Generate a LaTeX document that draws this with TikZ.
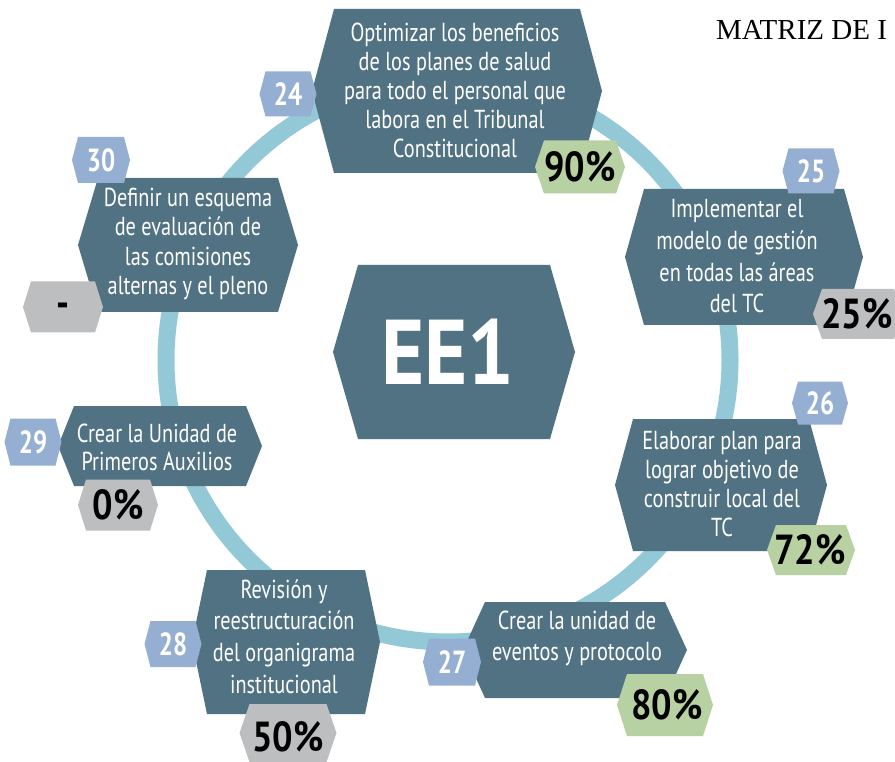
\documentclass[tikz,border=0pt]{standalone}
\usepackage{fontspec}
\newfontfamily\condfont[FakeStretch=0.78]{PT Sans}
\newfontfamily\pctfont[FakeStretch=0.86]{PT Sans}
\newfontfamily\eefont[FakeStretch=0.9]{PT Sans}
\newfontfamily\titlefont{Liberation Serif}
\definecolor{hexblue}{HTML}{517282}
\definecolor{ringblue}{HTML}{93C9D6}
\definecolor{numblue}{HTML}{95AFD2}
\definecolor{pctgreen}{HTML}{B7D1A3}
\definecolor{pctgrey}{HTML}{BDBEC0}
% color, cx, cy, half width, half height, inset
\newcommand\hexfill[6]{\fill[#1] ({#2-#4},#3) -- ({#2-#4+#6},{#3-#5}) -- ({#2+#4-#6},{#3-#5}) -- ({#2+#4},#3) -- ({#2+#4-#6},{#3+#5}) -- ({#2-#4+#6},{#3+#5}) -- cycle;}
\tikzset{
  maintext/.style={text=white, align=center, inner sep=0pt, font=\condfont\fontsize{26}{#1}\selectfont},
  numtext/.style={text=white, inner sep=0pt, font=\condfont\bfseries\fontsize{32}{32}\selectfont},
  pcttext/.style={text=black, inner sep=0pt, font=\pctfont\bfseries\fontsize{42}{42}\selectfont},
  ring/.style={draw=ringblue, line width=17pt},
}
\begin{document}
\begin{tikzpicture}[x=1pt,y=-1pt]
\useasboundingbox (0,0) rectangle (895,762);
\fill[white] (0,0) rectangle (895,762);
% ring
\draw[ring] (448,360) circle [radius=282pt];
% title
\node[anchor=base west, inner sep=0pt, font=\titlefont\fontsize{29}{29}\selectfont] (title) at (716,40) {MATRIZ DE I};
% center
\hexfill{hexblue}{454}{352}{121}{87}{25}
\node[text=white, inner sep=0pt, font=\eefont\bfseries\fontsize{92}{92}\selectfont] (ee1) at (448,352) {EE1};
% main hexagons
\hexfill{hexblue}{457}{91}{145}{82}{22}
\node[maintext=28.8] (t24) at (455,90.5) {Optimizar los beneficios\\de los planes de salud\\para todo el personal que\\labora en el Tribunal\\Constitucional};
\hexfill{hexblue}{744}{257}{119}{68}{19}
\node[maintext=31.7] (t25) at (737,256.5) {Implementar el\\modelo de gestión\\en todas las áreas\\del TC};
\hexfill{hexblue}{721}{485}{106}{66}{18}
\node[maintext=29] (t26) at (722,484.5) {Elaborar plan para\\lograr objetivo de\\construir local del\\TC};
\hexfill{hexblue}{575}{650}{112}{48}{22}
\node[maintext=31] (t27) at (577,638.5) {Crear la unidad de\\eventos y protocolo};
\hexfill{hexblue}{286}{642}{94}{72}{15}
\node[maintext=31.7] (t28) at (284,636.5) {Revisión y\\reestructuración\\del organigrama\\institucional};
\hexfill{hexblue}{160}{446}{102}{40}{16}
\node[maintext=28] (t29) at (157,447) {Crear la Unidad de\\Primeros Auxilios};
\hexfill{hexblue}{188}{245}{110}{67}{20}
\node[maintext=29.3] (t30) at (188,244) {Definir un esquema\\de evaluación de\\las comisiones\\alternas y el pleno};
% number badges
\hexfill{numblue}{288}{94}{28.5}{22.5}{6}
\node[numtext] (n24) at (288,94) {24};
\hexfill{numblue}{811}{171}{28.5}{22.5}{6}
\node[numtext] (n25) at (811,171) {25};
\hexfill{numblue}{820}{403}{28}{21.5}{6}
\node[numtext] (n26) at (820,403) {26};
\hexfill{numblue}{452}{662}{29}{23.5}{6}
\node[numtext] (n27) at (452,662) {27};
\hexfill{numblue}{173}{644}{28.5}{23}{6}
\node[numtext] (n28) at (173,644) {28};
\hexfill{numblue}{33}{442}{28.5}{23.5}{6}
\node[numtext] (n29) at (33,442) {29};
\hexfill{numblue}{101}{160}{29}{23}{6}
\node[numtext] (n30) at (101,160) {30};
% percentage badges
\hexfill{pctgreen}{580}{167}{45}{26.5}{9}
\node[pcttext] (p24) at (580,167) {90\%};
\hexfill{pctgrey}{858}{314}{45}{25}{9}
\node[pcttext] (p25) at (857,314) {25\%};
\hexfill{pctgreen}{811}{550}{44}{25}{9}
\node[pcttext] (p26) at (810,550) {72\%};
\hexfill{pctgreen}{665}{705}{48}{31}{10}
\node[pcttext] (p27) at (667,705) {80\%};
\hexfill{pctgrey}{288}{733}{48.5}{29}{10}
\node[pcttext] (p28) at (288,737) {50\%};
\hexfill{pctgrey}{118}{505}{40}{25.5}{8}
\node[pcttext] (p29) at (118,505) {0\%};
\hexfill{pctgrey}{63}{307}{40}{25.5}{8}
\node[pcttext] (p30) at (63,310) {-};
\end{tikzpicture}
\end{document}
